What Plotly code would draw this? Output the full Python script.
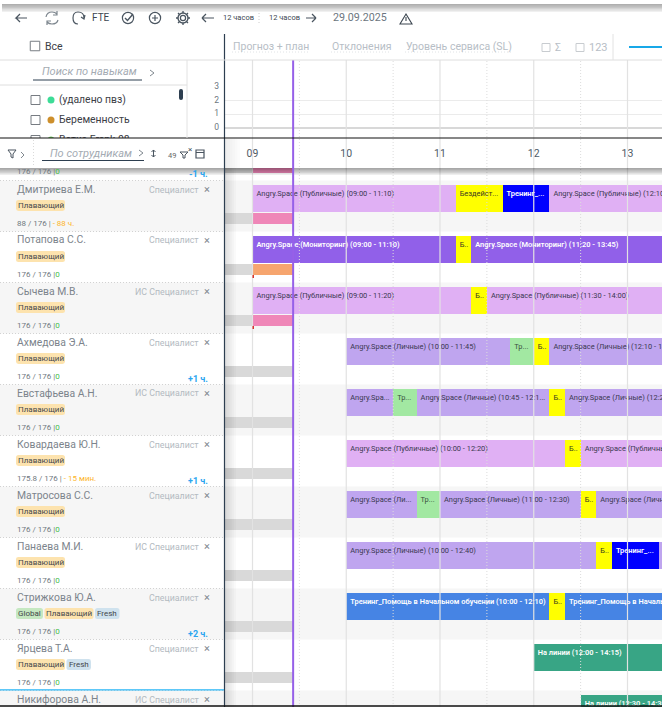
import plotly.graph_objects as go

W, H = 662, 707
FONT = "Roboto"

# time axis: window edges in hours, 09:00 sits at 252.5px and one hour is 93.75px
HOUR_PX = 93.75
X_MIN = 9 - 252.5 / HOUR_PX
X_MAX = X_MIN + W / HOUR_PX
ROW_PX = 51
ROW_TOP = 180.5
NOW = "09:26"

hour_ticks = [9, 10, 11, 12, 13]
hour_labels = ["09", "10", "11", "12", "13"]
half_hours = [9.5, 10.5, 11.5, 12.5]

names = ["Дмитриева Е.М.", "Потапова С.С.", "Сычева М.В.", "Ахмедова Э.А.", "Евстафьева А.Н.",
         "Ковардаева Ю.Н.", "Матросова С.С.", "Панаева М.И.", "Стрижкова Ю.А.", "Ярцева Т.А.",
         "Никифорова А.Н."]
roles = ["Специалист", "Специалист", "ИС Специалист", "Специалист", "ИС Специалист", "Специалист",
         "Специалист", "ИС Специалист", "Специалист", "Специалист", "ИС Специалист"]
tags = [["Плавающий"], ["Плавающий"], ["Плавающий"], ["Плавающий"], ["Плавающий"], ["Плавающий"],
        ["Плавающий"], ["Плавающий"], ["Global", "Плавающий", "Fresh"], ["Плавающий", "Fresh"], []]
worked = ["88 / 176", "176 / 176", "176 / 176", "176 / 176", "176 / 176", "175.8 / 176",
          "176 / 176", "176 / 176", "176 / 176", "176 / 176", ""]
balance = ["- 88 ч.", "0", "0", "0", "0", "- 15 мин.", "0", "0", "0", "0", ""]
deltas = ["", "", "", "+1 ч.", "", "+1 ч.", "", "", "+2 ч.", "", ""]

shift_rows = [0, 0, 0, 0,
              1, 1, 1,
              2, 2, 2,
              3, 3, 3, 3,
              4, 4, 4, 4, 4,
              5, 5, 5,
              6, 6, 6, 6, 6,
              7, 7, 7, 7,
              8, 8, 8,
              9,
              10]
shift_starts = ["09:00", "11:10", "11:40", "12:10",
                "09:00", "11:10", "11:20",
                "09:00", "11:20", "11:30",
                "10:00", "11:45", "12:00", "12:10",
                "10:00", "10:30", "10:45", "12:10", "12:20",
                "10:00", "12:20", "12:30",
                "10:00", "10:45", "11:00", "12:30", "12:40",
                "10:00", "12:40", "12:50", "13:20",
                "10:00", "12:10", "12:20",
                "12:00",
                "12:30"]
shift_ends = ["11:10", "11:40", "12:10", "14:00",
              "11:10", "11:20", "13:45",
              "11:20", "11:30", "14:00",
              "11:45", "12:00", "12:10", "14:00",
              "10:30", "10:45", "12:10", "12:20", "14:00",
              "12:20", "12:30", "14:00",
              "10:45", "11:00", "12:30", "12:40", "14:00",
              "12:40", "12:50", "13:20", "14:00",
              "12:10", "12:20", "14:00",
              "14:15",
              "14:30"]
shift_kinds = ["public", "idle", "course", "public",
               "monitor", "idle", "monitor",
               "public", "idle", "public",
               "personal", "trial", "idle", "personal",
               "personal", "trial", "personal", "idle", "personal",
               "public", "idle", "public",
               "personal", "trial", "personal", "idle", "personal",
               "personal", "idle", "course", "personal",
               "training", "idle", "training",
               "line",
               "line"]
shift_labels = ["Angry.Space (Публичные) (09:00 - 11:10)", "Бездейст...", "Тренинг_...", "Angry.Space (Публичные) (12:10 - 14:00)",
                "Angry.Space (Мониторинг) (09:00 - 11:10)", "Б..", "Angry.Space (Мониторинг) (11:20 - 13:45)",
                "Angry.Space (Публичные) (09:00 - 11:20)", "Б..", "Angry.Space (Публичные) (11:30 - 14:00)",
                "Angry.Space (Личные) (10:00 - 11:45)", "Тр...", "Б..", "Angry.Space (Личные) (12:10 - 14:00)",
                "Angry.Spa...", "Тр...", "Angry.Space (Личные) (10:45 - 12:1...", "Б..", "Angry.Space (Личные) (12:20 - 14:00)",
                "Angry.Space (Публичные) (10:00 - 12:20)", "Б..", "Angry.Space (Публичные) (12:30 - 14:00)",
                "Angry.Space (Ли...", "Тр...", "Angry.Space (Личные) (11:00 - 12:30)", "Б..", "Angry.Space (Личные) (12:40 - 14:00)",
                "Angry.Space (Личные) (10:00 - 12:40)", "Б..", "Тренинг_...", "",
                "Тренинг_Помощь в Начальном обучении (10:00 - 12:10)", "Б..", "Тренинг_Помощь в Начальном обучении (12:20 - 14:00)",
                "На линии (12:00 - 14:15)",
                "На линии (12:30 - 14:30)"]

kind_colors = {"public": "#e0b0f4", "personal": "#bfa5ef", "monitor": "#9160e9", "idle": "#ffff00",
               "course": "#0000ff", "trial": "#a2e8a2", "training": "#4684e4", "line": "#38a585"}
kind_text = {"public": "#3a3850", "personal": "#3a3850", "monitor": "#ffffff", "idle": "#3a3a20",
             "course": "#ffffff", "trial": "#3a5040", "training": "#ffffff", "line": "#ffffff"}

# lower strip of each row: absence in grey, what already happened in colour
band_rows = [-1, -1, 0, 0, 1, 1, 2, 2, 3, 4, 5, 6, 7, 8, 9]
band_starts = ["06:00", "09:00", "06:00", "09:00", "06:00", "09:00", "06:00", "09:00",
               "06:00", "06:00", "06:00", "06:00", "06:00", "06:00", "06:00"]
band_ends = ["09:00", NOW, "09:00", NOW, "09:00", NOW, "09:00", NOW, NOW, NOW, NOW, NOW, NOW, NOW, NOW]
band_colors = ["#d9d9d9", "#ef87b8", "#d9d9d9", "#ef87b8", "#d9d9d9", "#f6a56f", "#d9d9d9", "#ef87b8",
               "#d9d9d9", "#d9d9d9", "#d9d9d9", "#d9d9d9", "#d9d9d9", "#d9d9d9", "#d9d9d9"]

skill_names = ["(удалено пвз)", "Беременность", "Ветка Frank 08"]
skill_colors = ["#3ddc97", "#cd8f2c", "#6cc35a"]
skill_y = [100, 120, 140]

forecast_ticks = [0, 1, 2, 3]


def hours(s):
    h, m = s.split(":")
    return int(h) + int(m) / 60


def X(px):
    return px / W


def Y(py):
    return 1 - py / H


def row_top(i):
    return ROW_TOP + ROW_PX * i


def row_units(py_from_top):
    return py_from_top / ROW_PX


fig = go.Figure()

# shifts, one trace per kind
for kind, color in kind_colors.items():
    idx = [i for i, k in enumerate(shift_kinds) if k == kind]
    fig.add_trace(go.Bar(
        orientation="h",
        x=[hours(shift_ends[i]) - hours(shift_starts[i]) for i in idx],
        base=[hours(shift_starts[i]) for i in idx],
        y=[shift_rows[i] + row_units(18) for i in idx],
        width=row_units(27),
        marker=dict(color=color, line=dict(width=0)),
        name=kind, hoverinfo="skip", showlegend=False,
    ))

fig.add_trace(go.Bar(
    orientation="h",
    x=[hours(e) - hours(s) for s, e in zip(band_starts, band_ends)],
    base=[hours(s) for s in band_starts],
    y=[r + row_units(37.8) for r in band_rows],
    width=row_units(11.3),
    marker=dict(color=band_colors, line=dict(width=0)),
    hoverinfo="skip", showlegend=False,
))

# labels sit in the upper half of the bar
fig.add_trace(go.Scatter(
    mode="text",
    x=[hours(s) + 4 / HOUR_PX for s in shift_starts],
    y=[r + row_units(13.5) for r in shift_rows],
    text=shift_labels,
    textposition="middle right",
    textfont=dict(family=FONT, size=7.45, color=[kind_text[k] for k in shift_kinds],
                  weight=[600 if kind_text[k] == "#ffffff" else 400 for k in shift_kinds]),
    hoverinfo="skip", showlegend=False,
))

# empty forecast chart in the top area
fig.add_trace(go.Scatter(x=[], y=[], xaxis="x2", yaxis="y2", showlegend=False))

# skills list, on its own axes so the last item gets cut off by the header
fig.add_trace(go.Scatter(
    mode="markers", x=[51] * 3, y=skill_y, xaxis="x3", yaxis="y3",
    marker=dict(color=skill_colors, size=7), hoverinfo="skip", showlegend=False,
))
fig.add_trace(go.Scatter(
    mode="text", x=[59] * 3, y=skill_y, xaxis="x3", yaxis="y3", text=skill_names,
    textposition="middle right", textfont=dict(family=FONT, size=10.4, color="#3c4046"),
    hoverinfo="skip", showlegend=False,
))

shapes = []
annots = []


def rect(x0, y0, x1, y1, fill, layer="above", opacity=1):
    shapes.append(dict(type="rect", xref="paper", yref="paper", x0=X(x0), x1=X(x1), y0=Y(y0), y1=Y(y1),
                       fillcolor=fill, line=dict(width=0), layer=layer, opacity=opacity))


def line(x0, y0, x1, y1, color, width=1, dash="solid", layer="above"):
    shapes.append(dict(type="line", xref="paper", yref="paper", x0=X(x0), x1=X(x1), y0=Y(y0), y1=Y(y1),
                       line=dict(color=color, width=width, dash=dash), layer=layer))


def path(d, color="#4a5560", width=1.2, fill=None):
    # d is a list of (command, x, y) in pixels
    s = ""
    for cmd, *pt in d:
        s += cmd if not pt else f"{cmd}{X(pt[0]):.5f},{Y(pt[1]):.5f} "
    shapes.append(dict(type="path", xref="paper", yref="paper", path=s.strip(),
                       line=dict(color=color, width=width), fillcolor=fill, layer="above"))


def rounded(x0, y0, x1, y1, r, fill):
    d = [("M", x0 + r, y0), ("L", x1 - r, y0), ("Q", x1, y0), ("", x1, y0 + r), ("L", x1, y1 - r),
         ("Q", x1, y1), ("", x1 - r, y1), ("L", x0 + r, y1), ("Q", x0, y1), ("", x0, y1 - r),
         ("L", x0, y0 + r), ("Q", x0, y0), ("", x0 + r, y0), ("Z",)]
    path(d, color=fill, width=0, fill=fill)


def circle(cx, cy, r, color="#4a5560", width=1.2, fill=None):
    shapes.append(dict(type="circle", xref="paper", yref="paper", x0=X(cx - r), x1=X(cx + r),
                       y0=Y(cy - r), y1=Y(cy + r), line=dict(color=color, width=width),
                       fillcolor=fill, layer="above"))


def box(cx, cy, size=9.5, color="#777c82"):
    shapes.append(dict(type="rect", xref="paper", yref="paper", x0=X(cx - size / 2), x1=X(cx + size / 2),
                       y0=Y(cy - size / 2), y1=Y(cy + size / 2), line=dict(color=color, width=1),
                       fillcolor="white", layer="above"))


def text(px, py, s, size=10, color="#444", anchor="left", italic=False, bold=False):
    if italic:
        s = f"<i>{s}</i>"
    if bold:
        s = f"<b>{s}</b>"
    annots.append(dict(xref="paper", yref="paper", x=X(px), y=Y(py), text=s, showarrow=False,
                       xanchor=anchor, yanchor="middle", borderpad=0,
                       font=dict(family=FONT, size=size, color=color)))


def shadow(x0, y0, x1, y1, side, alpha=0.05, steps=6):
    # stacked translucent strips, darkest next to the edge the shadow falls from
    for k in range(steps):
        f = (k + 1) / steps
        if side == "down":
            rect(x0, y0, x1, y0 + (y1 - y0) * f, "#000", opacity=alpha)
        else:
            rect(x0, y0, x0 + (x1 - x0) * f, y1, "#000", opacity=alpha)


# row stripes of the gantt, under the bars
for i in range(-1, len(names)):
    if i % 2 == 0:
        shapes.append(dict(type="rect", xref="paper", yref="y", x0=0, x1=1, y0=i, y1=i + 1,
                           fillcolor="#f6f6f6", line=dict(width=0), layer="below"))

# grid lines run over the bars
for h in half_hours:
    shapes.append(dict(type="line", xref="x", yref="paper", x0=h, x1=h, y0=0, y1=Y(60),
                       line=dict(color="#dcdcdc", width=1, dash="1px,2px"), layer="above"))
for h in hour_ticks:
    shapes.append(dict(type="line", xref="x", yref="paper", x0=h, x1=h, y0=0, y1=Y(60),
                       line=dict(color="#e2e2e2", width=1.2), layer="above"))

# tiny red marks under two of the bands
for r in (1, 2):
    shapes.append(dict(type="rect", xref="x", yref="y", x0=9, x1=9 + 1.5 / HOUR_PX,
                       y0=r + row_units(43.5), y1=r + row_units(46.5), fillcolor="#d8342c",
                       line=dict(width=0), layer="above"))

# employee panel
rect(0, 168, 224, H, "white")
for i in range(len(names)):
    y0 = row_top(i)
    if i % 2 == 0:
        rect(0, y0, 224, min(y0 + ROW_PX, H), "#f6f6f6")
    line(0, y0, 224, y0, "#c8c8c8", 0.8, "1px,2px")
shadow(225, 168, 236, H, "right", alpha=0.018)

# header strip with the hour labels
rect(225, 139, 662, 168, "white", layer="below")
shadow(0, 168, W, 175, "down", alpha=0.065)
shadow(225, 139, 240, 168, "right", alpha=0.012)
rect(0, 139, 225, 168, "white")

# now line
shapes.append(dict(type="line", xref="x", yref="paper", x0=hours(NOW), x1=hours(NOW), y0=0, y1=Y(60),
                   line=dict(color="#9660e8", width=2), layer="above"))

line(224.5, 34, 224.5, H, "#2d3e50", 1.2)
line(0, 138, W, 138, "#111", 1.2)
line(0, 706, W, 706, "#111", 1.4)
line(0, 689.8, 224, 689.8, "#29b6f6", 1.2)

# toolbar top shadow and dividers
shadow(2, 4, W, 12, "down", alpha=0.06)
line(0, 60, W, 60, "#dedede", 1)
line(0, 85, 187, 85, "#dedede", 1)
line(187, 60, 187, 138, "#e2e2e2", 1)
line(613, 34, 613, 60, "#e2e2e2", 1)
rounded(179, 89, 183, 100, 2, "#2d3e50")

# toolbar icons
ICON = "#4a5560"
path([("M", 27, 18), ("L", 16, 18), ("L", 20, 14), ("M", 16, 18), ("L", 20, 22)], ICON)
path([("M", 46, 17), ("Q", 47, 12), ("", 52, 12), ("Q", 55, 12), ("", 57, 14), ("M", 58, 20), ("Q", 57, 24), ("", 52, 24),
      ("Q", 49, 24), ("", 47, 22), ("M", 57, 11), ("L", 57, 15), ("L", 53, 15), ("M", 47, 25), ("L", 47, 21), ("L", 51, 21)],
     "#7d868e")
path([("M", 84, 18), ("Q", 84, 12), ("", 78, 12), ("Q", 73, 12), ("", 73, 18), ("Q", 73, 24), ("", 78, 24),
      ("M", 85, 15), ("L", 84, 19), ("L", 81, 17)], ICON)
text(91, 18, "FTE", 10, "#3c4650")
circle(128, 18, 5.6)
path([("M", 125, 18), ("L", 127.5, 20.5), ("L", 133, 14)], ICON, 1.4)
circle(155, 18, 5.6)
path([("M", 155, 15), ("L", 155, 21), ("M", 152, 18), ("L", 158, 18)], ICON)
circle(183, 18, 2.6)
circle(183, 18, 5, width=1.4)
path([("M", 183, 11), ("L", 183, 13), ("M", 183, 23), ("L", 183, 25), ("M", 176, 18), ("L", 178, 18), ("M", 188, 18), ("L", 190, 18),
      ("M", 178, 13), ("L", 179.5, 14.5), ("M", 186.5, 21.5), ("L", 188, 23), ("M", 188, 13), ("L", 186.5, 14.5), ("M", 179.5, 21.5), ("L", 178, 23)], ICON, 1.3)
path([("M", 202, 18), ("L", 206, 14), ("M", 202, 18), ("L", 206, 22), ("M", 202, 18), ("L", 214, 18)], ICON)
text(222, 18, "12 часов", 7.5, "#3c4650")
line(259, 13, 259, 24, "#cccccc", 1, "1px,2px")
text(268, 18, "12 часов", 7.5, "#3c4650")
path([("M", 316, 18), ("L", 312, 14), ("M", 316, 18), ("L", 312, 22), ("M", 316, 18), ("L", 306, 18)], ICON)
text(332, 18, "29.09.2025", 10.7, "#6c7680")
path([("M", 406, 14), ("L", 412, 24), ("L", 400, 24), ("Z",), ("M", 406, 17), ("L", 406, 21)], "#3c4650", 1.1)

# tabs
TAB = "#b7bec6"
text(232, 46, "Прогноз + план", 10.5, TAB)
line(232, 52, 308, 52, "#d8dce0", 0.8, "1px,2px")
text(331, 46, "Отклонения", 10.5, TAB)
line(331, 52, 390, 52, "#d8dce0", 0.8, "1px,2px")
text(405, 46, "Уровень сервиса (SL)", 10.5, TAB)
line(405, 52, 511, 52, "#d8dce0", 0.8, "1px,2px")
box(546, 47.5, 8, "#c8ccd0")
text(554, 47.5, "Σ", 10.5, TAB)
box(580, 47.5, 8, "#c8ccd0")
text(588, 47.5, "123", 11, TAB)
line(629, 47, W, 47, "#18a8e8", 2)

# skills filter
box(35, 46)
text(44, 46, "Все", 10.5, "#3c4046")
text(41, 72, "Поиск по навыкам", 11, "#a4abb3", italic=True)
line(33, 80, 142, 80, "#2d3e50", 1)
path([("M", 150, 70), ("L", 154, 73), ("L", 150, 76)], "#80888f", 1)
for y in skill_y:
    shapes.append(dict(type="rect", xref="x3", yref="y3", x0=31, x1=40, y0=y - 4.5, y1=y + 4.5,
                       line=dict(color="#777c82", width=1), fillcolor="white", layer="below"))

# employee filter bar
path([("M", 8, 150), ("L", 16, 150), ("L", 13, 154), ("L", 13, 158), ("L", 11, 157), ("L", 11, 154), ("Z",)], ICON, 1)
path([("M", 21, 152), ("L", 24, 155), ("L", 21, 158)], "#80888f", 1)
line(33.5, 140, 33.5, 167, "#d0d0d0", 0.8, "1px,2px")
text(49, 153, "По сотрудникам", 11, "#a4abb3", italic=True)
line(42, 160.5, 144, 160.5, "#2d3e50", 1)
path([("M", 139, 150), ("L", 143, 153), ("L", 139, 156)], "#80888f", 1)
path([("M", 153.5, 150), ("L", 153.5, 157), ("M", 151.5, 152), ("L", 153.5, 150), ("L", 155.5, 152),
      ("M", 151.5, 155), ("L", 153.5, 157), ("L", 155.5, 155)], ICON, 1)
text(167, 155, "49", 7.5, "#666")
path([("M", 180, 152), ("L", 188, 152), ("L", 185, 155), ("L", 185, 158), ("L", 183, 158), ("L", 183, 155), ("Z",)], ICON, 1)
text(187, 149, "×", 8, ICON)
path([("M", 196, 150), ("L", 204, 150), ("L", 204, 158), ("L", 196, 158), ("Z",), ("M", 196, 152.5), ("L", 204, 152.5)], ICON, 1.2)

# panel text
TAG_STYLE = {"Плавающий": (49, "#fde3ae"), "Global": (27, "#c5e8c1"), "Fresh": (24.5, "#cfe2ee")}
text(16, 172, "176 / 176 |<span style='color:#45c04a'>0</span>", 8, "#6f7780")
text(209, 174, "-1 ч.", 9, "#29a5f0", anchor="right", bold=True)
for i, name in enumerate(names):
    t = row_top(i)
    text(16, t + 8.5, name, 10.4, "#7c848c")
    text(200, t + 9, roles[i], 8.8, "#b3bac1", anchor="right")
    text(207, t + 9, "×", 11, "#80888f", anchor="center")
    x = 16
    for tag in tags[i]:
        w, fill = TAG_STYLE[tag]
        rounded(x, t + 19.5, x + w, t + 30.5, 2.5, fill)
        text(x + w / 2, t + 25.3, tag, 8, "#43474c", anchor="center")
        x += w + 1.5
    if worked[i]:
        color = "#45c04a" if balance[i] == "0" else "#fdb52a"
        sep = "|" if balance[i] == "0" else "| "
        text(16, t + 43, f"{worked[i]} {sep}<span style='color:{color}'>{balance[i]}</span>", 8, "#6f7780")
    if deltas[i]:
        text(209, t + 45, deltas[i], 9, "#29a5f0", anchor="right", bold=True)

fig.update_layout(
    width=W, height=H,
    margin=dict(l=0, r=0, t=0, b=0),
    paper_bgcolor="white", plot_bgcolor="rgba(0,0,0,0)",
    barmode="overlay", bargap=0, showlegend=False,
    shapes=shapes, annotations=annots,
    xaxis=dict(range=[X_MIN, X_MAX], domain=[0, 1], side="top", anchor="y", showgrid=False, zeroline=False,
               automargin=False, tickmode="array", tickvals=hour_ticks, ticktext=hour_labels, ticks="",
               ticklabelstandoff=8, tickfont=dict(family=FONT, size=10.5, color="#4f5a64"), showline=False),
    yaxis=dict(range=[(H - ROW_TOP) / ROW_PX, (168 - ROW_TOP) / ROW_PX], domain=[0, Y(168)], anchor="x",
               visible=False, showgrid=False, zeroline=False, automargin=False),
    xaxis2=dict(domain=[X(225), 1], range=[0, 1], anchor="y2", visible=False, automargin=False),
    yaxis2=dict(domain=[Y(128.3), Y(86.7)], range=[0, 3], anchor="x2", tickmode="array", tickvals=forecast_ticks,
                gridcolor="#ebebeb", gridwidth=1, zerolinecolor="#d8d8d8", ticks="", ticklabelstandoff=5,
                ticklabelshift=-1, automargin=False, tickfont=dict(family=FONT, size=8.5, color="#6c7680"),
                showline=False),
    xaxis3=dict(domain=[0, X(187)], range=[0, 187], anchor="y3", visible=False, automargin=False),
    yaxis3=dict(domain=[Y(138), Y(60)], range=[138, 60], anchor="x3", visible=False, automargin=False),
)

fig.write_html("out.html", config={"displayModeBar": False}, post_script="document.body.style.margin='0';")
